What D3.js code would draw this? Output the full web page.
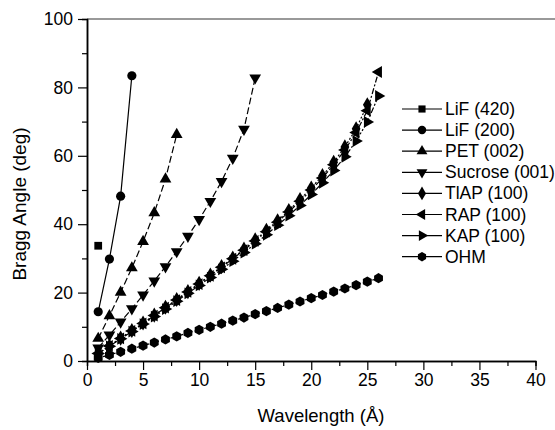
<!DOCTYPE html>
<html>
<head>
<meta charset="utf-8">
<script src="https://cdn.jsdelivr.net/npm/d3@7"></script>
<style>
  body { margin: 0; background: #fff; }
  text { font-family: "Liberation Sans", Arial, sans-serif; fill: #000; }
</style>
</head>
<body>
<div id="chart"></div>
<script>
// wavelengths (A) per crystal
const lif420X = [1];
const lif420Y = [33.7];
const lif200X = [1, 2, 3, 4];
const lif200Y = [14.4, 29.8, 48.2, 83.4];
const petX = [1, 2, 3, 4, 5, 6, 7, 8];
const petY = [6.6, 13.2, 20.1, 27.2, 34.9, 43.3, 53.2, 66.2];
const sucroseX = [1, 2, 3, 4, 5, 6, 7, 8, 9, 10, 11, 12, 13, 14, 15];
const sucroseY = [3.8, 7.6, 11.4, 15.3, 19.3, 23.4, 27.6, 32.0, 36.5, 41.4, 46.7, 52.5, 59.3, 67.8, 82.8];
const tlapX = [1, 2, 3, 4, 5, 6, 7, 8, 9, 10, 11, 12, 13, 14, 15, 16, 17, 18, 19, 20, 21, 22, 23, 24, 25];
const tlapY = [2.2, 4.4, 6.7, 8.9, 11.1, 13.4, 15.7, 18.0, 20.3, 22.7, 25.1, 27.6, 30.1, 32.7, 35.4, 38.2, 41.0, 44.0, 47.2, 50.6, 54.2, 58.1, 62.6, 67.9, 74.9];
const rapX = [1, 2, 3, 4, 5, 6, 7, 8, 9, 10, 11, 12, 13, 14, 15, 16, 17, 18, 19, 20, 21, 22, 23, 24, 25, 26];
const rapY = [2.2, 4.4, 6.6, 8.8, 11.0, 13.3, 15.6, 17.8, 20.2, 22.5, 24.9, 27.4, 29.9, 32.4, 35.1, 37.8, 40.6, 43.6, 46.7, 50.0, 53.5, 57.4, 61.7, 66.8, 73.2, 84.5];
const kapX = [1, 2, 3, 4, 5, 6, 7, 8, 9, 10, 11, 12, 13, 14, 15, 16, 17, 18, 19, 20, 21, 22, 23, 24, 25, 26];
const kapY = [2.2, 4.3, 6.5, 8.6, 10.8, 13.0, 15.2, 17.5, 19.8, 22.1, 24.4, 26.8, 29.2, 31.7, 34.3, 36.9, 39.7, 42.5, 45.5, 48.7, 52.1, 55.7, 59.7, 64.3, 69.9, 77.5];
const ohmX = [1, 2, 3, 4, 5, 6, 7, 8, 9, 10, 11, 12, 13, 14, 15, 16, 17, 18, 19, 20, 21, 22, 23, 24, 25, 26];
const ohmY = [0.9, 1.8, 2.7, 3.6, 4.5, 5.4, 6.3, 7.2, 8.2, 9.1, 10.0, 10.9, 11.8, 12.7, 13.7, 14.6, 15.5, 16.5, 17.4, 18.4, 19.3, 20.3, 21.2, 22.2, 23.2, 24.2];

const seriesNames = ["LiF (420)", "LiF (200)", "PET (002)", "Sucrose (001)", "TlAP (100)", "RAP (100)", "KAP (100)", "OHM"];
const xTicks = [0, 5, 10, 15, 20, 25, 30, 35, 40];
const yTicks = [0, 20, 40, 60, 80, 100];

const width = 555, height = 430;
const margin = { top: 19, right: 19.5, bottom: 69, left: 87 };

const hexagon = {
  draw(ctx, size) {
    const r = Math.sqrt(size / 2.598);
    for (let i = 0; i < 6; i++) {
      const a = Math.PI / 6 + i * Math.PI / 3;
      if (i === 0) ctx.moveTo(r * Math.cos(a), r * Math.sin(a));
      else ctx.lineTo(r * Math.cos(a), r * Math.sin(a));
    }
    ctx.closePath();
  }
};

const series = [
  { name: seriesNames[0], xs: lif420X, ys: lif420Y, sym: d3.symbolSquare, size: 60, rot: 0, dash: null },
  { name: seriesNames[1], xs: lif200X, ys: lif200Y, sym: d3.symbolCircle, size: 66, rot: 0, dash: null },
  { name: seriesNames[2], xs: petX, ys: petY, sym: d3.symbolTriangle, size: 60, rot: 0, dash: "7,3" },
  { name: seriesNames[3], xs: sucroseX, ys: sucroseY, sym: d3.symbolTriangle, size: 60, rot: 180, dash: "7,3" },
  { name: seriesNames[4], xs: tlapX, ys: tlapY, sym: d3.symbolDiamond, size: 66, rot: 0, dash: "2,2" },
  { name: seriesNames[5], xs: rapX, ys: rapY, sym: d3.symbolTriangle, size: 60, rot: -90, dash: "6,2,2,2" },
  { name: seriesNames[6], xs: kapX, ys: kapY, sym: d3.symbolTriangle, size: 60, rot: 90, dash: "6,2,2,2,2,2" },
  { name: seriesNames[7], xs: ohmX, ys: ohmY, sym: hexagon, size: 68, rot: 0, dash: "3,2" }
];

const svg = d3.select("#chart").append("svg")
  .attr("width", width)
  .attr("height", height);

const x = d3.scaleLinear().domain([0, 40]).range([margin.left, width - margin.right]);
const y = d3.scaleLinear().domain([0, 100]).range([height - margin.bottom, margin.top]);

// top frame line
svg.append("line")
  .attr("x1", margin.left).attr("x2", width)
  .attr("y1", margin.top).attr("y2", margin.top)
  .attr("stroke", "#777").attr("stroke-width", 1.5);

// minor ticks
const xAxisMinor = d3.axisBottom(x).tickValues(d3.range(2.5, 40, 5)).tickSize(5).tickFormat("");
const yAxisMinor = d3.axisLeft(y).tickValues(d3.range(10, 100, 20)).tickSize(5).tickFormat("");
const xAxis = d3.axisBottom(x).tickValues(xTicks).tickSize(9).tickPadding(4).tickSizeOuter(0);
const yAxis = d3.axisLeft(y).tickValues(yTicks).tickSize(9).tickPadding(5).tickSizeOuter(0);

function styleAxis(g) {
  g.select(".domain").attr("stroke", "#000").attr("stroke-width", 1.5);
  g.selectAll(".tick line").attr("stroke", "#000").attr("stroke-width", 1.2);
  g.selectAll("text").style("font-size", "17.5px").attr("font-family", null);
}

svg.append("g").attr("transform", `translate(0,${height - margin.bottom})`).call(xAxisMinor).call(styleAxis);
svg.append("g").attr("transform", `translate(${margin.left},0)`).call(yAxisMinor).call(styleAxis);
svg.append("g").attr("transform", `translate(0,${height - margin.bottom})`).call(xAxis).call(styleAxis);
svg.append("g").attr("transform", `translate(${margin.left},0)`).call(yAxis).call(styleAxis);

// axis titles
svg.append("text")
  .attr("x", 321).attr("y", 422)
  .attr("text-anchor", "middle")
  .style("font-size", "18.5px")
  .text("Wavelength (\u00C5)");

svg.append("text")
  .attr("transform", "translate(26,204) rotate(-90)")
  .attr("text-anchor", "middle")
  .style("font-size", "19px")
  .text("Bragg Angle (deg)");

const line = d3.line().x(d => x(d[0])).y(d => y(d[1]));

series.forEach(s => {
  const pts = s.xs.map((v, i) => [v, s.ys[i]]);
  if (pts.length > 1) {
    svg.append("path")
      .datum(pts)
      .attr("d", line)
      .attr("fill", "none")
      .attr("stroke", "#000")
      .attr("stroke-width", 1.2)
      .attr("stroke-dasharray", s.dash);
  }
  svg.append("g").selectAll("path")
    .data(pts)
    .join("path")
    .attr("d", d3.symbol().type(s.sym).size(s.size))
    .attr("transform", d => `translate(${x(d[0])},${y(d[1])}) rotate(${s.rot})`)
    .attr("fill", "#000");
});

// legend
const legend = svg.append("g").attr("transform", "translate(402,109)");
series.forEach((s, i) => {
  const row = legend.append("g").attr("transform", `translate(0,${i * 21.1})`);
  row.append("line")
    .attr("x1", 0).attr("x2", 40)
    .attr("stroke", "#000").attr("stroke-width", 1.2);
  row.append("path")
    .attr("d", d3.symbol().type(s.sym).size(s.size * 0.85))
    .attr("transform", `translate(20,0) rotate(${s.rot})`)
    .attr("fill", "#000");
  row.append("text")
    .attr("x", 43).attr("y", 6)
    .style("font-size", "17.5px")
    .text(s.name);
});
</script>
</body>
</html>
